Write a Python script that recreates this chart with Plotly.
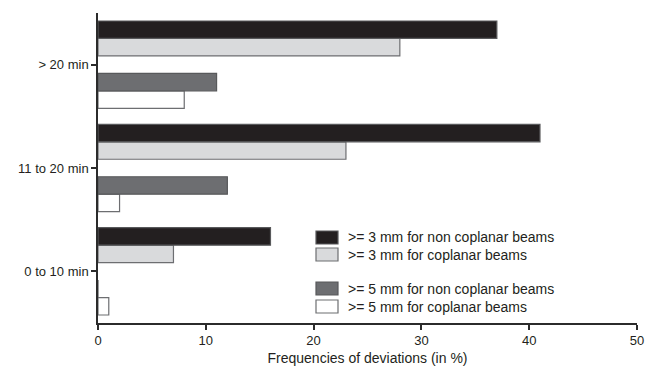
import plotly.graph_objects as go

categories = ["0 to 10 min", "11 to 20 min", "> 20 min"]
series_names = [
    ">= 3 mm for non coplanar beams",
    ">= 3 mm for coplanar beams",
    ">= 5 mm for non coplanar beams",
    ">= 5 mm for coplanar beams",
]
ge3_noncoplanar = [16, 41, 37]
ge3_coplanar = [7, 23, 28]
ge5_noncoplanar = [0, 12, 11]
ge5_coplanar = [1, 2, 8]
x_ticks = [0, 10, 20, 30, 40, 50]

FONT = "Liberation Sans, Arial, Helvetica, sans-serif"
TXT = "#231f20"
FILLS = ["#231f20", "#d9dadc", "#6d6e71", "#ffffff"]
EDGES = ["#58595b", "#6d6e71", "#58595b", "#6d6e71"]

W, H = 655, 369
ML, MR, MT, MB = 98, 18, 13, 46
PW, PH = W - ML - MR, H - MT - MB


def px_x(px):
    return (px - ML) / PW


def px_y(py):
    return (H - MB - py) / PH


fig = go.Figure()
# traces added bottom-to-top within each group; empty slot between the pairs
order = [3, 2, None, 1, 0]
values = [ge3_noncoplanar, ge3_coplanar, ge5_noncoplanar, ge5_coplanar]
for idx in order:
    if idx is None:
        fig.add_trace(go.Bar(y=categories, x=[0, 0, 0], orientation="h", name="",
                             showlegend=False, hoverinfo="skip",
                             marker=dict(color="rgba(0,0,0,0)", line=dict(width=0))))
        continue
    fig.add_trace(go.Bar(y=categories, x=values[idx], orientation="h", name=series_names[idx],
                         showlegend=False,
                         marker=dict(color=FILLS[idx], line=dict(color=EDGES[idx], width=1.2))))

# legend drawn as swatches + labels (inside plot area, lower right)
rows = [(231, 244), (248, 261), (282, 295), (300, 313)]
for i, (top, bot) in enumerate(rows):
    fig.add_shape(type="rect", xref="paper", yref="paper",
                  x0=px_x(316), x1=px_x(338), y0=px_y(bot), y1=px_y(top),
                  fillcolor=FILLS[i], line=dict(color=EDGES[i], width=1.2))
    fig.add_annotation(xref="paper", yref="paper", x=px_x(346), y=px_y((top + bot) / 2),
                       xanchor="left", yanchor="middle", showarrow=False,
                       text=series_names[i], font=dict(family=FONT, size=14, color=TXT))

fig.update_layout(
    width=W, height=H,
    margin=dict(l=ML, r=MR, t=MT, b=MB),
    paper_bgcolor="white", plot_bgcolor="white",
    barmode="group", bargap=0.155, bargroupgap=0,
    font=dict(family=FONT, size=13, color=TXT),
    showlegend=False,
    xaxis=dict(
        range=[0, 50], tickvals=x_ticks, ticktext=[str(v) for v in x_ticks],
        showgrid=False, zeroline=False, showline=True, linecolor="#2b2b2b", linewidth=1.5,
        ticks="outside", ticklen=5, tickwidth=1.5, tickcolor="#2b2b2b",
        tickfont=dict(size=13), automargin=False,
        title=dict(text="Frequencies of deviations (in %)", standoff=6,
                   font=dict(family=FONT, size=14, color=TXT)),
    ),
    yaxis=dict(
        type="category", categoryorder="array", categoryarray=categories,
        range=[-0.5, 2.5], automargin=False,
        showgrid=False, zeroline=False, showline=True, linecolor="#2b2b2b", linewidth=1.5,
        ticks="outside", ticklen=5, tickwidth=1.5, tickcolor="#2b2b2b",
        tickfont=dict(size=13),
    ),
)

fig.write_html("out.html")
